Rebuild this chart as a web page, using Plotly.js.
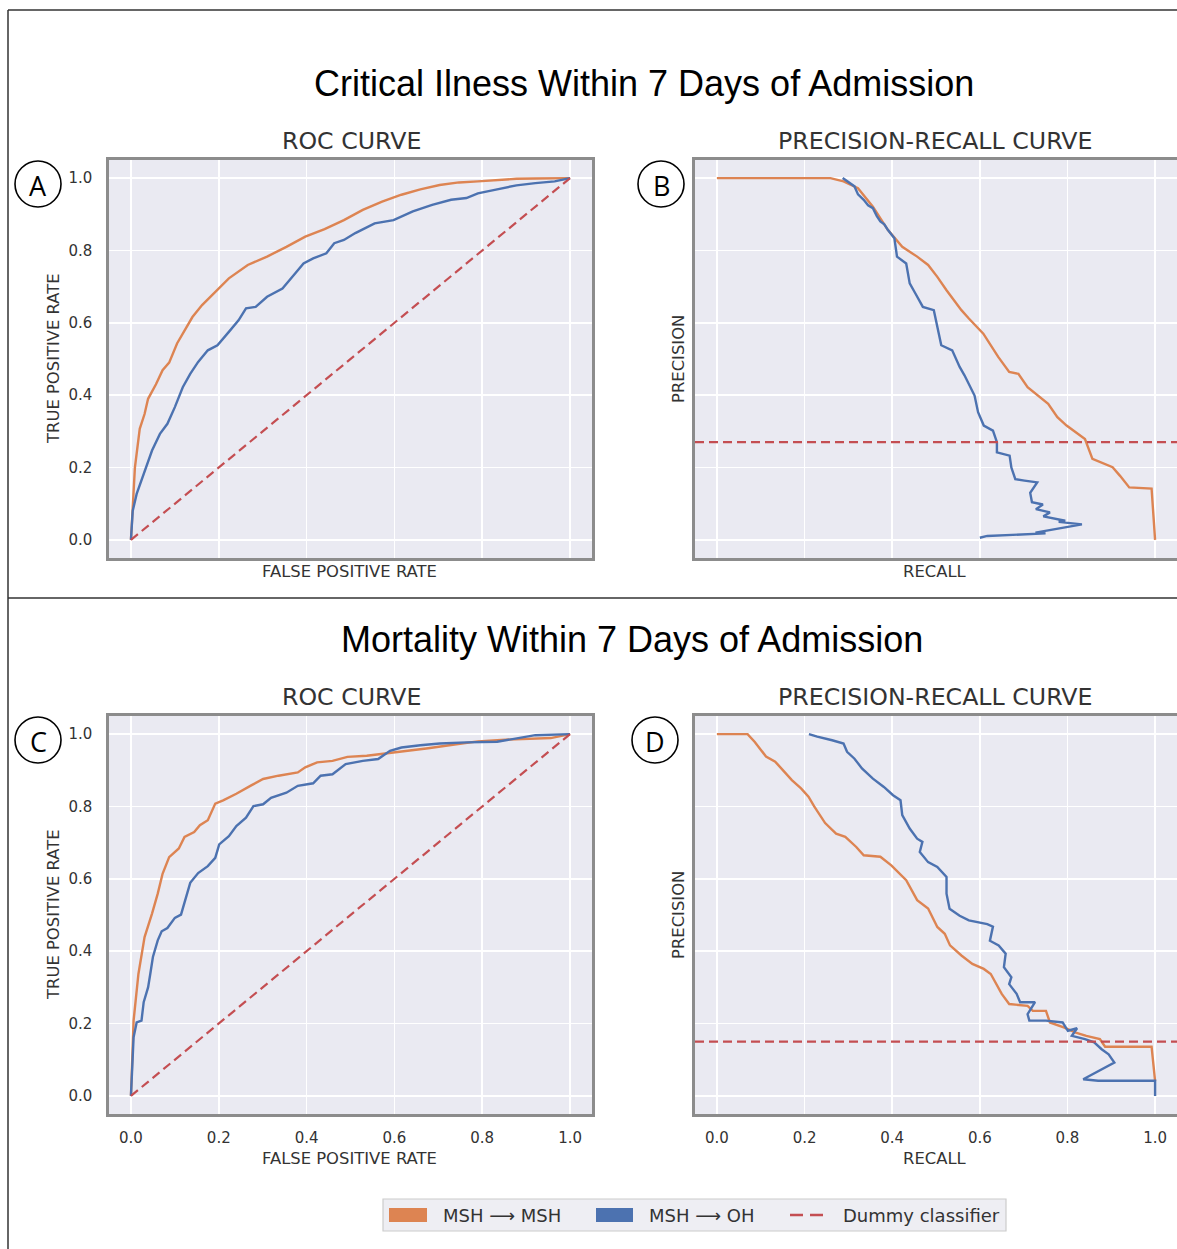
<!DOCTYPE html>
<html>
<head>
<meta charset="utf-8">
<script src="https://cdn.plot.ly/plotly-3.0.1.min.js"></script>
<style>html,body{margin:0;padding:0;background:#fff;}#chart{width:1177px;height:1249px;}</style>
</head>
<body>
<div id="chart"></div>
<script>
// ---------- DATA ----------
const tickVals = [0, 0.2, 0.4, 0.6, 0.8, 1.0];
const tickLabels = ["0.0", "0.2", "0.4", "0.6", "0.8", "1.0"];
const seriesNames = ["MSH \u27F6 MSH", "MSH \u27F6 OH", "Dummy classifier"];

// Panel A: ROC, critical illness
const rocCritMshX = [0,0.009,0.02,0.031,0.039,0.057,0.072,0.087,0.105,0.122,0.14,0.162,0.188,0.223,0.266,0.31,0.354,0.397,0.441,0.485,0.528,0.572,0.616,0.659,0.703,0.747,0.79,0.834,0.878,0.921,1];
const rocCritMshY = [0,0.2,0.307,0.348,0.39,0.43,0.469,0.49,0.543,0.58,0.616,0.649,0.681,0.723,0.76,0.783,0.81,0.838,0.859,0.884,0.912,0.935,0.954,0.969,0.981,0.988,0.991,0.995,0.998,0.999,1];
const rocCritOhX = [0,0.004,0.013,0.024,0.035,0.048,0.066,0.083,0.1,0.118,0.135,0.153,0.175,0.197,0.223,0.245,0.262,0.284,0.31,0.345,0.371,0.393,0.415,0.445,0.463,0.485,0.511,0.555,0.598,0.642,0.686,0.729,0.764,0.79,0.834,0.878,0.921,0.965,1];
const rocCritOhY = [0,0.08,0.127,0.164,0.2,0.247,0.293,0.321,0.367,0.422,0.459,0.492,0.524,0.538,0.575,0.607,0.64,0.644,0.672,0.695,0.732,0.764,0.778,0.792,0.82,0.829,0.848,0.875,0.884,0.908,0.926,0.94,0.945,0.958,0.969,0.98,0.986,0.991,1];

// Panel B: PR, critical illness
const prCritMshX = [0,0.259,0.289,0.322,0.356,0.39,0.423,0.457,0.482,0.503,0.524,0.558,0.575,0.608,0.642,0.667,0.688,0.709,0.756,0.777,0.798,0.819,0.84,0.857,0.878,0.903,0.92,0.941,0.992,1.0];
const prCritMshY = [1,1,0.991,0.972,0.921,0.857,0.81,0.783,0.76,0.727,0.69,0.635,0.612,0.57,0.506,0.464,0.459,0.422,0.376,0.339,0.316,0.298,0.279,0.224,0.214,0.201,0.177,0.145,0.142,0.0];
const prCritOhX = [0.287,0.3,0.314,0.322,0.335,0.345,0.356,0.365,0.373,0.382,0.39,0.405,0.411,0.432,0.44,0.453,0.47,0.495,0.501,0.512,0.537,0.546,0.554,0.565,0.575,0.588,0.596,0.603,0.609,0.63,0.639,0.639,0.668,0.672,0.681,0.702,0.731,0.715,0.719,0.744,0.728,0.76,0.745,0.795,0.78,0.833,0.727,0.75,0.617,0.6];
const prCritOhY = [1.0,0.99,0.977,0.955,0.94,0.925,0.917,0.895,0.88,0.872,0.857,0.834,0.783,0.764,0.709,0.681,0.644,0.635,0.598,0.538,0.524,0.5,0.478,0.455,0.432,0.399,0.353,0.335,0.316,0.302,0.27,0.242,0.233,0.2,0.168,0.164,0.159,0.13,0.104,0.098,0.085,0.076,0.065,0.053,0.05,0.043,0.02,0.018,0.011,0.006];
const critPrevalence = 0.27;

// Panel C: ROC, mortality
const rocMortMshX = [0,0.006,0.017,0.031,0.048,0.061,0.072,0.087,0.109,0.122,0.144,0.157,0.175,0.192,0.21,0.24,0.275,0.301,0.336,0.38,0.397,0.424,0.459,0.493,0.537,0.572,0.607,0.642,0.677,0.729,0.79,0.843,0.904,0.956,1];
const rocMortMshY = [0,0.208,0.337,0.439,0.504,0.559,0.614,0.66,0.684,0.716,0.729,0.748,0.762,0.808,0.817,0.835,0.859,0.876,0.885,0.894,0.908,0.922,0.926,0.937,0.94,0.945,0.95,0.957,0.961,0.97,0.98,0.984,0.987,0.989,1];
const rocMortOhX = [0,0.003,0.006,0.013,0.024,0.029,0.039,0.044,0.05,0.061,0.07,0.083,0.1,0.114,0.127,0.135,0.153,0.175,0.192,0.201,0.223,0.24,0.262,0.279,0.301,0.319,0.354,0.38,0.415,0.432,0.459,0.489,0.528,0.563,0.59,0.616,0.659,0.703,0.764,0.834,0.921,1];
const rocMortOhY = [0,0.079,0.162,0.203,0.208,0.259,0.3,0.337,0.384,0.43,0.455,0.464,0.492,0.501,0.552,0.589,0.616,0.635,0.658,0.695,0.718,0.746,0.769,0.801,0.806,0.824,0.838,0.857,0.864,0.885,0.889,0.917,0.926,0.931,0.954,0.963,0.969,0.974,0.977,0.979,0.997,1];

// Panel D: PR, mortality
const prMortMshX = [0,0.07,0.086,0.112,0.133,0.154,0.171,0.192,0.209,0.222,0.247,0.272,0.293,0.318,0.335,0.373,0.398,0.432,0.457,0.482,0.503,0.52,0.532,0.558,0.583,0.609,0.625,0.65,0.667,0.709,0.721,0.751,0.76,0.793,0.819,0.843,0.874,0.886,0.992,1.0];
const prMortMshY = [1,1,0.979,0.938,0.924,0.896,0.873,0.85,0.827,0.8,0.754,0.725,0.716,0.688,0.665,0.661,0.637,0.596,0.541,0.518,0.467,0.448,0.416,0.388,0.365,0.351,0.337,0.282,0.254,0.249,0.235,0.235,0.203,0.189,0.175,0.166,0.157,0.136,0.136,0.041];
const prMortOhX = [0.21,0.229,0.263,0.289,0.297,0.314,0.331,0.356,0.381,0.402,0.419,0.423,0.44,0.457,0.469,0.463,0.482,0.503,0.524,0.524,0.531,0.554,0.575,0.617,0.63,0.623,0.643,0.659,0.655,0.672,0.667,0.684,0.692,0.726,0.709,0.713,0.751,0.789,0.801,0.822,0.81,0.84,0.861,0.878,0.894,0.907,0.836,0.87,1.0,1.0];
const prMortOhY = [1,0.993,0.983,0.974,0.951,0.932,0.905,0.877,0.854,0.831,0.817,0.776,0.739,0.711,0.702,0.674,0.646,0.633,0.605,0.559,0.517,0.498,0.485,0.475,0.468,0.429,0.416,0.393,0.356,0.328,0.309,0.282,0.259,0.259,0.226,0.208,0.208,0.203,0.18,0.187,0.166,0.157,0.148,0.129,0.115,0.092,0.046,0.042,0.042,0.0];
const mortPrevalence = 0.15;

const rocDiagX = [0, 1];
const rocDiagY = [0, 1];
const hLineX = [-0.05, 1.05];

// ---------- STYLE ----------
const W = 1177, H = 1249;
const C_ORANGE = '#DD8452', C_BLUE = '#4C72B0', C_RED = '#C44E52';
const px = x => x / W;
const py = y => 1 - y / H;

function curve(x, y, color, xa, ya) {
  return {x: x, y: y, type: 'scatter', mode: 'lines', xaxis: xa, yaxis: ya,
          line: {color: color, width: 2.4}, hoverinfo: 'skip', showlegend: false};
}
function dummy(x, y, xa, ya) {
  return {x: x, y: y, type: 'scatter', mode: 'lines', xaxis: xa, yaxis: ya,
          line: {color: C_RED, width: 2.2, dash: '9px,5px'}, hoverinfo: 'skip', showlegend: false};
}

const traces = [
  curve(rocCritMshX, rocCritMshY, C_ORANGE, 'x', 'y'),
  curve(rocCritOhX, rocCritOhY, C_BLUE, 'x', 'y'),
  dummy(rocDiagX, rocDiagY, 'x', 'y'),
  curve(prCritMshX, prCritMshY, C_ORANGE, 'x2', 'y2'),
  curve(prCritOhX, prCritOhY, C_BLUE, 'x2', 'y2'),
  dummy(hLineX, [critPrevalence, critPrevalence], 'x2', 'y2'),
  curve(rocMortMshX, rocMortMshY, C_ORANGE, 'x3', 'y3'),
  curve(rocMortOhX, rocMortOhY, C_BLUE, 'x3', 'y3'),
  dummy(rocDiagX, rocDiagY, 'x3', 'y3'),
  curve(prMortMshX, prMortMshY, C_ORANGE, 'x4', 'y4'),
  curve(prMortOhX, prMortOhY, C_BLUE, 'x4', 'y4'),
  dummy(hLineX, [mortPrevalence, mortPrevalence], 'x4', 'y4')
];

function axis(domain, anchor, showLabels, tlen) {
  return {
    domain: domain, anchor: anchor, range: [-0.05, 1.05], autorange: false,
    tickmode: 'array', tickvals: tickVals, ticktext: tickLabels,
    showticklabels: showLabels,
    ticks: 'outside', ticklen: tlen, tickcolor: 'rgba(0,0,0,0)',
    tickfont: {family: 'DejaVu Sans', size: 15, color: '#333333'},
    showgrid: true, gridcolor: '#ffffff', gridwidth: 1.6,
    zeroline: false, showline: true, mirror: true,
    linecolor: '#8c8c8c', linewidth: 2.6, fixedrange: true
  };
}

const xLeft = [px(109), px(592)], xRight = [px(695), 1.0];
const yTop = [py(558), py(160)], yBot = [py(1114), py(716)];

const layout = {
  width: W, height: H, margin: {l: 0, r: 0, t: 0, b: 0},
  paper_bgcolor: '#ffffff', plot_bgcolor: '#EAEAF2', showlegend: false,
  xaxis: axis(xLeft, 'y', false, 8), yaxis: axis(yTop, 'x', true, 11),
  xaxis2: axis(xRight, 'y2', false, 8), yaxis2: axis(yTop, 'x2', false, 11),
  xaxis3: axis(xLeft, 'y3', true, 8), yaxis3: axis(yBot, 'x3', true, 11),
  xaxis4: axis(xRight, 'y4', true, 8), yaxis4: axis(yBot, 'x4', false, 11),
  annotations: [], shapes: []
};

function txt(text, x, y, size, opts) {
  const o = Object.assign({family: 'DejaVu Sans', color: '#333333', xanchor: 'center', angle: 0}, opts || {});
  layout.annotations.push({text: text, x: px(x), y: py(y), xref: 'paper', yref: 'paper',
    xanchor: o.xanchor, yanchor: 'middle', showarrow: false, textangle: o.angle,
    font: {family: o.family, size: size, color: o.color}});
}
// Main titles
txt('Critical Ilness Within 7 Days of Admission', 644, 84, 36, {family: 'Liberation Sans', color: '#000000'});
txt('Mortality Within 7 Days of Admission', 632, 639, 36, {family: 'Liberation Sans', color: '#000000'});
// Subplot titles
txt('ROC CURVE', 351, 141, 23.7);
txt('PRECISION-RECALL CURVE', 935, 141, 23.7);
txt('ROC CURVE', 351, 697, 23.7);
txt('PRECISION-RECALL CURVE', 935, 697, 23.7);
// Axis titles
txt('FALSE POSITIVE RATE', 350, 571, 16.4);
txt('RECALL', 935, 571, 16.4);
txt('FALSE POSITIVE RATE', 350, 1158, 16.4);
txt('RECALL', 935, 1158, 16.4);
txt('TRUE POSITIVE RATE', 53, 359, 16.4, {angle: -90});
txt('PRECISION', 678, 359, 16.4, {angle: -90});
txt('TRUE POSITIVE RATE', 53, 915, 16.4, {angle: -90});
txt('PRECISION', 678, 915, 16.4, {angle: -90});

// Panel letters with circles
const letters = [['A', 38, 184], ['B', 661, 184], ['C', 38, 740], ['D', 655, 740]];
letters.forEach(([l, cx, cy]) => {
  layout.shapes.push({type: 'circle', xref: 'paper', yref: 'paper',
    x0: px(cx - 23), x1: px(cx + 23), y0: py(cy + 23), y1: py(cy - 23),
    line: {color: '#000000', width: 1.6}, fillcolor: 'rgba(0,0,0,0)'});
  txt(l, cx, cy + 1, 27, {family: 'Open Sans', color: '#000000'});
});

// Frame lines of the figure
const frameLine = (x0, y0, x1, y1) => layout.shapes.push({type: 'line', xref: 'paper', yref: 'paper',
  x0: px(x0), y0: py(y0), x1: px(x1), y1: py(y1), line: {color: '#333333', width: 1.5}});
frameLine(8, 10, 1177, 10);
frameLine(8, 10, 8, 1249);
frameLine(8, 598, 1177, 598);

// Legend (manual)
layout.shapes.push({type: 'rect', xref: 'paper', yref: 'paper', x0: px(383), x1: px(1006), y0: py(1231), y1: py(1199),
  line: {color: '#cccccc', width: 1.2}, fillcolor: '#EEEEF3'});
layout.shapes.push({type: 'rect', xref: 'paper', yref: 'paper', x0: px(389), x1: px(427), y0: py(1222), y1: py(1208),
  line: {width: 0}, fillcolor: C_ORANGE});
layout.shapes.push({type: 'rect', xref: 'paper', yref: 'paper', x0: px(596), x1: px(633), y0: py(1222), y1: py(1208),
  line: {width: 0}, fillcolor: C_BLUE});
layout.shapes.push({type: 'line', xref: 'paper', yref: 'paper', x0: px(790), x1: px(824), y0: py(1215), y1: py(1215),
  line: {color: C_RED, width: 2.6, dash: '13px,7px'}});
txt(seriesNames[0], 441, 1215, 18, {xanchor: 'left'});
txt(seriesNames[1], 647, 1215, 18, {xanchor: 'left'});
txt(seriesNames[2], 841, 1215, 18, {xanchor: 'left'});

Plotly.newPlot('chart', traces, layout, {staticPlot: true, displayModeBar: false});
</script>
</body>
</html>
